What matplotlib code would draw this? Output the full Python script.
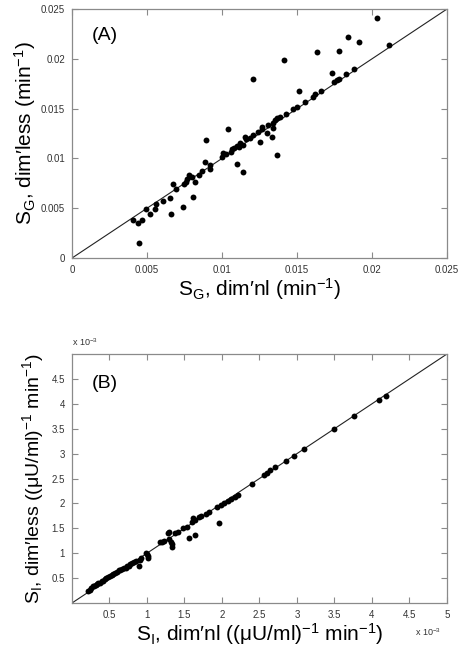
import matplotlib
matplotlib.use("Agg")
import matplotlib.pyplot as plt

plt.rcParams['font.family'] = ['Liberation Sans', 'DejaVu Sans']
plt.rcParams['mathtext.fontset'] = 'custom'
plt.rcParams['mathtext.rm'] = 'Liberation Sans'

# Panel A: S_G, dimensional vs dimensionless (min^-1)
sg_dimnl = [0.00406, 0.00437, 0.00466, 0.00448, 0.00496, 0.00518, 0.00552, 0.00563,
            0.00608, 0.00652, 0.00661, 0.00675, 0.00691, 0.00740, 0.00747, 0.00758,
            0.00769, 0.00783, 0.00803, 0.00809, 0.00818, 0.00848, 0.00870, 0.00886,
            0.00891, 0.00919, 0.00922, 0.01000, 0.01009, 0.01027, 0.01042, 0.01061,
            0.01064, 0.01083, 0.01098, 0.01099, 0.01117, 0.01120, 0.01139, 0.01139,
            0.01153, 0.01161, 0.01184, 0.01209, 0.01209, 0.01242, 0.01253, 0.01264,
            0.01266, 0.01298, 0.01309, 0.01331, 0.01338, 0.01342, 0.01353, 0.01364,
            0.01364, 0.01387, 0.01413, 0.01427, 0.01471, 0.01498, 0.01516, 0.01553,
            0.01604, 0.01620, 0.01636, 0.01658, 0.01731, 0.01747, 0.01765, 0.01782,
            0.01782, 0.01827, 0.01842, 0.01880, 0.01916, 0.02031, 0.02116]
sg_dimless = [0.00379, 0.00356, 0.00379, 0.00154, 0.00497, 0.00446, 0.00490, 0.00540,
              0.00570, 0.00604, 0.00446, 0.00742, 0.00698, 0.00513, 0.00742, 0.00765,
              0.00789, 0.00832, 0.00815, 0.00614, 0.00765, 0.00839, 0.00876, 0.00960,
              0.01186, 0.00899, 0.00933, 0.01010, 0.01052, 0.01040, 0.01293, 0.01067,
              0.01093, 0.01101, 0.01126, 0.00940, 0.01117, 0.01153, 0.00866, 0.01134,
              0.01219, 0.01191, 0.01201, 0.01794, 0.01236, 0.01270, 0.01169, 0.01314,
              0.01300, 0.01260, 0.01337, 0.01219, 0.01354, 0.01304, 0.01387, 0.01035,
              0.01404, 0.01420, 0.01986, 0.01444, 0.01494, 0.01515, 0.01681, 0.01571,
              0.01615, 0.01645, 0.02066, 0.01681, 0.01861, 0.01772, 0.01789, 0.01802,
              0.02076, 0.01848, 0.02224, 0.01898, 0.02166, 0.02415, 0.02139]

# Panel B: S_I, dimensional vs dimensionless, in units of 1e-3 (uU/ml)^-1 min^-1
si_dimnl = [0.214, 0.24, 0.259, 0.28, 0.30, 0.318, 0.335, 0.35, 0.37, 0.395, 0.42,
            0.441, 0.46, 0.486, 0.51, 0.532, 0.55, 0.577, 0.60, 0.623, 0.645, 0.668,
            0.69, 0.714, 0.735, 0.759, 0.78, 0.805, 0.827, 0.85, 0.895, 0.905, 0.92,
            0.986, 1.0, 1.018, 1.018, 1.168, 1.2, 1.23, 1.282, 1.291, 1.291, 1.327,
            1.336, 1.336, 1.373, 1.41, 1.486, 1.532, 1.555, 1.6, 1.62, 1.645, 1.645,
            1.69, 1.727, 1.782, 1.827, 1.94, 1.956, 1.986, 2.03, 2.077, 2.123, 2.168,
            2.214, 2.40, 2.557, 2.603, 2.647, 2.714, 2.848, 2.959, 3.093, 3.494,
            3.761, 4.095, 4.184]
si_dimless = [0.233, 0.26, 0.30, 0.333, 0.34, 0.367, 0.38, 0.40, 0.41, 0.433, 0.45,
              0.487, 0.50, 0.52, 0.54, 0.567, 0.575, 0.60, 0.62, 0.667, 0.665, 0.687,
              0.70, 0.713, 0.74, 0.753, 0.78, 0.80, 0.833, 0.85, 0.753, 0.867, 0.90,
              1.0, 0.98, 0.953, 0.913, 1.22, 1.22, 1.25, 1.40, 1.433, 1.287, 1.233,
              1.18, 1.133, 1.40, 1.433, 1.50, 1.533, 1.30, 1.633, 1.70, 1.367, 1.667,
              1.72, 1.753, 1.78, 1.82, 1.93, 1.60, 1.967, 2.0, 2.047, 2.087, 2.133,
              2.167, 2.40, 2.566, 2.62, 2.667, 2.733, 2.847, 2.953, 3.087, 3.487,
              3.747, 4.087, 4.167]

a_ticks = [0, 0.005, 0.01, 0.015, 0.02, 0.025]
a_ticklabels = ['0', '0.005', '0.01', '0.015', '0.02', '0.025']
b_xticks = [0.5, 1, 1.5, 2, 2.5, 3, 3.5, 4, 4.5, 5]
b_xticklabels = ['0.5', '1', '1.5', '2', '2.5', '3', '3.5', '4', '4.5', '5']
b_yticks = [0.5, 1, 1.5, 2, 2.5, 3, 3.5, 4, 4.5]
b_yticklabels = ['0.5', '1', '1.5', '2', '2.5', '3', '3.5', '4', '4.5']


def style_axes(ax):
    for sp in ax.spines.values():
        sp.set_color('#8a8a8a')
        sp.set_linewidth(0.9)
    ax.tick_params(direction='in', top=True, right=True, length=4, width=0.8,
                   colors='#8a8a8a', labelcolor='#333333', labelsize=7, pad=5)


fig = plt.figure(figsize=(4.6, 6.5), dpi=100)

# ---- panel A
ax1 = fig.add_axes([0.1565, 0.603, 0.815, 0.383])
lim_a = a_ticks[-1]
ax1.plot([0, lim_a], [0, lim_a], color='#222222', lw=0.8)
ax1.scatter(sg_dimnl, sg_dimless, s=18, color='black', zorder=3, linewidths=0)
ax1.set_xlim(0, lim_a)
ax1.set_ylim(0, lim_a)
ax1.set_xticks(a_ticks)
ax1.set_xticklabels(a_ticklabels)
ax1.set_yticks(a_ticks)
ax1.set_yticklabels(a_ticklabels)
style_axes(ax1)
ax1.set_xlabel(r"S$\mathregular{_G}$, dim′nl (min$\mathregular{^{-1}}$)", fontsize=15, labelpad=1)
ax1.set_ylabel(r"S$\mathregular{_G}$, dim′less (min$\mathregular{^{-1}}$)", fontsize=15, labelpad=2)
ax1.text(0.053, 0.893, "(A)", transform=ax1.transAxes, fontsize=14, va='center')

# ---- panel B
ax2 = fig.add_axes([0.1565, 0.0723, 0.815, 0.383])
lim_b = b_xticks[-1]
ax2.plot([0, lim_b], [0, lim_b], color='#222222', lw=0.8)
ax2.scatter(si_dimnl, si_dimless, s=18, color='black', zorder=3, linewidths=0)
ax2.set_xlim(0, lim_b)
ax2.set_ylim(0, lim_b)
ax2.set_xticks(b_xticks)
ax2.set_xticklabels(b_xticklabels)
ax2.set_yticks(b_yticks)
ax2.set_yticklabels(b_yticklabels)
style_axes(ax2)
ax2.set_xlabel(r"S$\mathregular{_I}$, dim′nl ((μU/ml)$\mathregular{^{-1}}$ min$\mathregular{^{-1}}$)",
               fontsize=15, labelpad=1)
ax2.set_ylabel(r"S$\mathregular{_I}$, dim′less ((μU/ml)$\mathregular{^{-1}}$ min$\mathregular{^{-1}}$)",
               fontsize=14, labelpad=4)
ax2.text(0.053, 0.88, "(B)", transform=ax2.transAxes, fontsize=14, va='center')
ax2.text(0.0, 1.025, r"x 10$\mathregular{^{-3}}$", transform=ax2.transAxes,
         fontsize=6.5, color='#333333', ha='left', va='bottom')
ax2.text(0.985, -0.095, r"x 10$\mathregular{^{-3}}$", transform=ax2.transAxes,
         fontsize=6.5, color='#333333', ha='right', va='top')

fig.savefig("out.png", dpi=100)
